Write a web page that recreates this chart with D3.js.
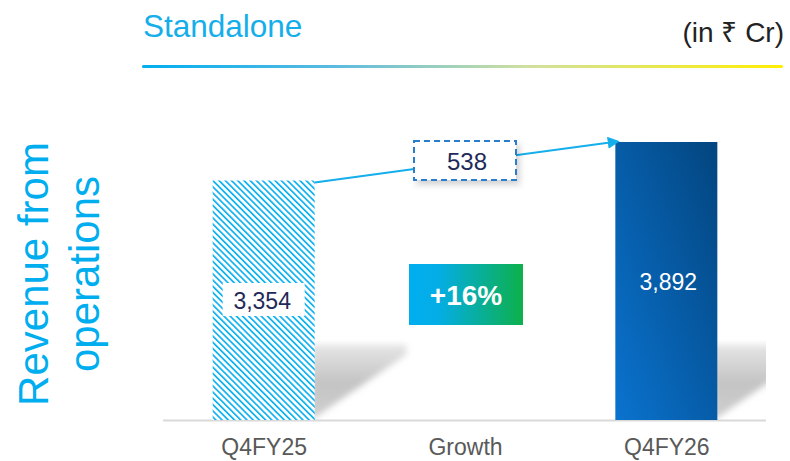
<!DOCTYPE html>
<html>
<head>
<meta charset="utf-8">
<script src="https://cdn.jsdelivr.net/npm/d3@7/dist/d3.min.js"></script>
<style>
  body { margin: 0; background: #fff; }
  text { font-family: "Liberation Sans", Arial, sans-serif; }
</style>
</head>
<body>
<div id="chart"></div>
<script>
// data
var categories = ['Q4FY25', 'Growth', 'Q4FY26'];
var barValues = [3354, null, 3892];
var barLabels = ['3,354', '', '3,892'];
var growthValue = 538;
var growthPct = '+16%';

var W = 790, H = 461;
var base = 420.5;

var svg = d3.select('#chart').append('svg')
  .attr('width', W).attr('height', H);
var defs = svg.append('defs');

// scales
var x = d3.scalePoint().domain(categories).range([163, 767]).padding(0.5);
var y = d3.scaleLinear().domain([0, 4000]).range([base, base - 240 * 4000 / 3354]);
var barW = 102;

// header
svg.append('text').attr('x', 143).attr('y', 37)
  .attr('font-size', 31.5).attr('fill', '#14AEEA').text('Standalone');
svg.append('text').attr('x', 784).attr('y', 42).attr('text-anchor', 'end')
  .attr('font-size', 28).attr('fill', '#222').text('(in \u20B9 Cr)');

var hg = defs.append('linearGradient').attr('id', 'hdr');
hg.append('stop').attr('offset', '0%').attr('stop-color', '#00AEEF');
hg.append('stop').attr('offset', '30%').attr('stop-color', '#5bbbe0');
hg.append('stop').attr('offset', '60%').attr('stop-color', '#cfe0a0');
hg.append('stop').attr('offset', '100%').attr('stop-color', '#FFEF00');
svg.append('rect').attr('x', 142).attr('y', 65).attr('width', 641).attr('height', 3)
  .attr('rx', 1.5).attr('fill', 'url(#hdr)');

// y title
var yt = svg.append('text').attr('transform', 'translate(48,274) rotate(-90)')
  .attr('text-anchor', 'middle').attr('font-size', 42).attr('fill', '#00AEEF');
yt.append('tspan').attr('x', 0).attr('dy', 0).text('Revenue from');
yt.append('tspan').attr('x', 0).attr('dy', 51).text('operations');

// patterns / gradients / filters
var pat = defs.append('pattern').attr('id', 'hatch').attr('patternUnits', 'userSpaceOnUse')
  .attr('width', 4.4).attr('height', 4.4).attr('patternTransform', 'rotate(-45)');
pat.append('rect').attr('width', 4.4).attr('height', 4.4).attr('fill', '#fff');
pat.append('rect').attr('x', 0).attr('width', 1.6).attr('height', 4.4).attr('fill', '#00AEEF');

var bg = defs.append('linearGradient').attr('id', 'barGrad')
  .attr('x1', 0).attr('y1', 1).attr('x2', 1).attr('y2', 0);
bg.append('stop').attr('offset', '0%').attr('stop-color', '#0A73CF');
bg.append('stop').attr('offset', '100%').attr('stop-color', '#03457F');

var gg = defs.append('linearGradient').attr('id', 'growGrad');
gg.append('stop').attr('offset', '0%').attr('stop-color', '#00AEEF');
gg.append('stop').attr('offset', '25%').attr('stop-color', '#04ADE6');
gg.append('stop').attr('offset', '100%').attr('stop-color', '#0DB04B');

var sg = defs.append('linearGradient').attr('id', 'shadowGrad')
  .attr('x1', 0).attr('y1', 0).attr('x2', 0).attr('y2', 1);
sg.append('stop').attr('offset', '0%').attr('stop-color', '#e6e6e6');
sg.append('stop').attr('offset', '50%').attr('stop-color', '#c4c4c4');
sg.append('stop').attr('offset', '100%').attr('stop-color', '#cfcfcf');

defs.append('filter').attr('id', 'blur').attr('x', '-20%').attr('y', '-20%')
  .attr('width', '140%').attr('height', '140%')
  .append('feGaussianBlur').attr('stdDeviation', 3);

var ds = defs.append('filter').attr('id', 'drop').attr('x', '-20%').attr('y', '-30%')
  .attr('width', '150%').attr('height', '180%');
ds.append('feDropShadow').attr('dx', 3).attr('dy', 4).attr('stdDeviation', 3)
  .attr('flood-color', '#000').attr('flood-opacity', 0.18);

defs.append('clipPath').attr('id', 'plotClip').append('rect')
  .attr('x', 150).attr('y', 100).attr('width', 616).attr('height', base - 100);

var bars = categories.map(function(c, i) {
  return {cat: c, value: barValues[i], label: barLabels[i]};
}).filter(function(d) { return d.value != null; });

// shadows
svg.append('g').attr('clip-path', 'url(#plotClip)').selectAll('path')
  .data(bars).enter().append('path')
  .attr('d', function(d) {
    var x1 = x(d.cat) + barW / 2;
    return 'M' + (x1 - 4) + ',' + base + 'L' + (x1 - 4) + ',' + (base - 76) +
      'L' + (x1 + 92) + ',' + (base - 76) + 'L' + (x1 + 92) + ',' + (base - 66) + 'Z';
  })
  .attr('fill', 'url(#shadowGrad)').attr('filter', 'url(#blur)');

// baseline
svg.append('line').attr('x1', 163).attr('x2', 766).attr('y1', base).attr('y2', base)
  .attr('stroke', '#d9d9d9').attr('stroke-width', 2);

// bars
svg.selectAll('rect.bar').data(bars).enter().append('rect').attr('class', 'bar')
  .attr('x', function(d) { return x(d.cat) - barW / 2; })
  .attr('y', function(d) { return y(d.value); })
  .attr('width', barW)
  .attr('height', function(d) { return base - 0.5 - y(d.value); })
  .attr('fill', function(d, i) { return i === 0 ? 'url(#hatch)' : 'url(#barGrad)'; });

// connector arrow
var b0 = bars[0], b1 = bars[1];
defs.append('marker').attr('id', 'arrow').attr('viewBox', '0 0 10 10')
  .attr('refX', 8).attr('refY', 5).attr('markerWidth', 6).attr('markerHeight', 6)
  .attr('markerUnits', 'strokeWidth').attr('orient', 'auto')
  .append('path').attr('d', 'M0,0 L10,5 L0,10 Z').attr('fill', '#14AEEA');
svg.append('line')
  .attr('x1', x(b0.cat) + barW / 2).attr('y1', y(b0.value) + 2)
  .attr('x2', x(b1.cat) - barW / 2 + 2).attr('y2', y(b1.value) - 0.5)
  .attr('stroke', '#14AEEA').attr('stroke-width', 2).attr('marker-end', 'url(#arrow)');

// growth amount box
var gx = x('Growth');
svg.append('rect').attr('x', gx - 51).attr('y', 141).attr('width', 102).attr('height', 39)
  .attr('fill', '#fff').attr('stroke', '#2A7DCB').attr('stroke-width', 2)
  .attr('stroke-dasharray', '6,4').attr('filter', 'url(#drop)');
svg.append('text').attr('x', gx + 2).attr('y', 170).attr('text-anchor', 'middle')
  .attr('font-size', 24).attr('fill', '#1F2A5A').text(d3.format('d')(growthValue));

// growth pct box
svg.append('rect').attr('x', gx - 56).attr('y', 264).attr('width', 114).attr('height', 61)
  .attr('fill', 'url(#growGrad)');
svg.append('text').attr('x', gx + 1).attr('y', 305).attr('text-anchor', 'middle')
  .attr('font-size', 28).attr('font-weight', 'bold').attr('fill', '#fff').text(growthPct);

// bar value labels
svg.append('rect').attr('x', x(b0.cat) - 41).attr('y', 283).attr('width', 82).attr('height', 33)
  .attr('fill', '#fff');
svg.append('text').attr('x', x(b0.cat) - 1.5).attr('y', 309).attr('text-anchor', 'middle')
  .attr('font-size', 23).attr('fill', '#1F2A5A').text(b0.label);
svg.append('text').attr('x', x(b1.cat) + 2).attr('y', 290).attr('text-anchor', 'middle')
  .attr('font-size', 23).attr('fill', '#fff').text(b1.label);

// category axis
var xAxis = d3.axisBottom(x).tickSize(0).tickPadding(0);
var ax = svg.append('g').attr('transform', 'translate(0,' + 455 + ')').call(xAxis);
ax.select('.domain').remove();
ax.selectAll('text').attr('dy', 0).attr('font-size', 23).attr('fill', '#595959')
  .attr('font-family', '"Liberation Sans", Arial, sans-serif');
</script>
</body>
</html>
